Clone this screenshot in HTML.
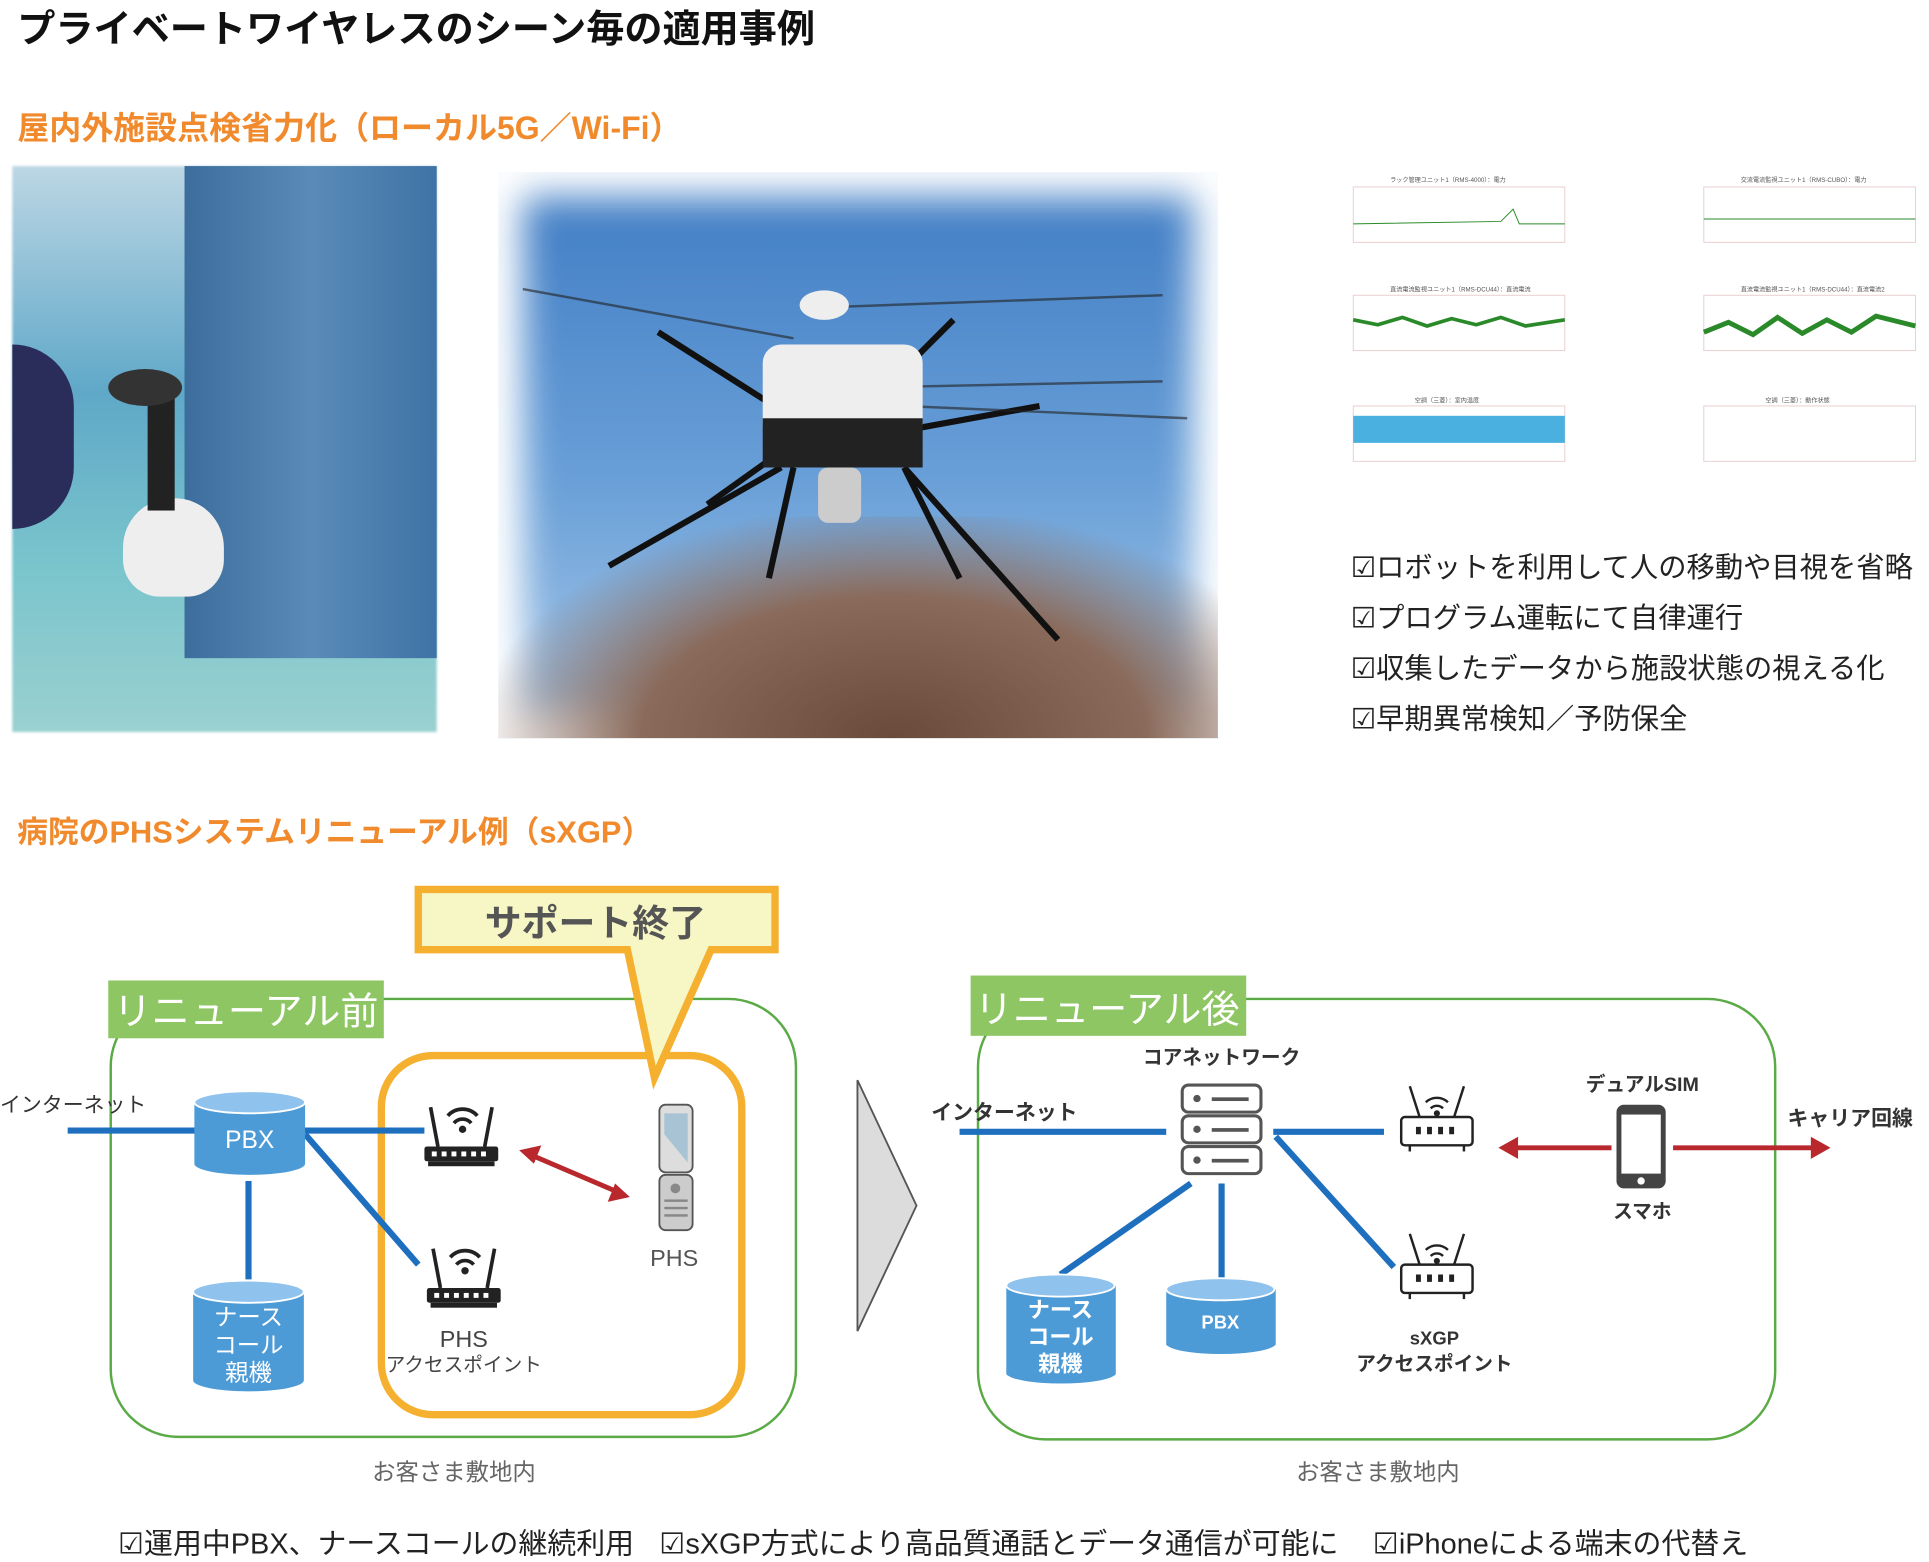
<!DOCTYPE html>
<html><head><meta charset="utf-8">
<style>
html,body{margin:0;padding:0;background:#fff;}
body{width:1929px;height:1557px;overflow:hidden;position:relative;}
#w{position:absolute;left:0;top:0;width:1568px;height:1266px;transform:scale(1.2302);transform-origin:0 0;font-family:"Liberation Sans","Noto Sans CJK JP",sans-serif;}
.t{position:absolute;white-space:nowrap;}
.or{color:#f08a2c;font-weight:bold;font-size:25px;}
.chk{font-size:23px;color:#222;}
.chk b{font-family:"DejaVu Sans",sans-serif;font-weight:normal;}
</style></head><body><div id="w">

<div class="t" style="left:14px;top:-2px;font-size:31px;font-weight:bold;color:#111;">プライベートワイヤレスのシーン毎の適用事例</div>
<div class="t or" style="left:14px;top:84px;font-size:26px;">屋内外施設点検省力化（ローカル5G／Wi-Fi）</div>

<!-- photo 1 -->
<div class="t" style="left:10px;top:135px;width:345px;height:460px;background:linear-gradient(180deg,#bcd6e4 0%,#5fa8c8 40%,#79c4cc 70%,#9ad0d0 100%);filter:blur(1px);"></div>
<div class="t" style="left:150px;top:135px;width:205px;height:400px;background:linear-gradient(90deg,#3c6d9c,#5a8bb8,#3f73a6);"></div>
<div class="t" style="left:10px;top:280px;width:50px;height:150px;background:#2a2d5a;border-radius:0 80px 80px 0;"></div>
<div class="t" style="left:100px;top:405px;width:82px;height:80px;background:#eee;border-radius:40px 40px 30px 30px;"></div>
<div class="t" style="left:120px;top:320px;width:22px;height:95px;background:#222;"></div>
<div class="t" style="left:88px;top:300px;width:60px;height:30px;background:#333;border-radius:50%;"></div>

<!-- photo 2 drone -->
<div class="t" style="left:405px;top:140px;width:585px;height:460px;background:linear-gradient(180deg,#3f7cc4 0%,#6aa0d8 55%,#a8c8e8 100%);box-shadow:inset 0 0 30px 20px #fff;"></div>
<div class="t" style="left:405px;top:420px;width:585px;height:180px;background:radial-gradient(ellipse at 55% 100%,#6a4a3a 0%,#8a6a5a 45%,rgba(160,140,130,0) 75%);"></div>
<svg class="t" style="left:405px;top:140px" width="585" height="460">
<g stroke="#111" stroke-width="5" fill="none">
<line x1="130" y1="130" x2="240" y2="200"/><line x1="370" y1="120" x2="300" y2="190"/>
<line x1="440" y1="190" x2="330" y2="210"/><line x1="170" y1="270" x2="240" y2="220"/>
<line x1="90" y1="320" x2="230" y2="240"/><line x1="220" y1="330" x2="240" y2="240"/>
<line x1="375" y1="330" x2="330" y2="240"/><line x1="455" y1="380" x2="330" y2="240"/>
</g>
<g stroke="#222" stroke-width="2" fill="none" opacity="0.6">
<line x1="20" y1="95" x2="240" y2="135"/><line x1="260" y1="110" x2="540" y2="100"/>
<line x1="300" y1="175" x2="540" y2="170"/><line x1="330" y1="190" x2="560" y2="200"/>
</g>
<rect x="215" y="140" width="130" height="80" rx="15" fill="#eee"/>
<rect x="215" y="200" width="130" height="40" fill="#222"/>
<ellipse cx="265" cy="108" rx="20" ry="12" fill="#eee"/>
<rect x="260" y="240" width="35" height="45" rx="8" fill="#ccc"/>
</svg>

<!-- charts -->
<svg class="t" style="left:1070px;top:140px" width="495" height="270" font-family="Liberation Sans" font-size="5" fill="#555">
<g fill="none" stroke="#e6c8c8" stroke-width="0.7">
<rect x="30" y="12" width="172" height="45"/><rect x="30" y="100" width="172" height="45"/><rect x="30" y="190" width="172" height="45"/>
<rect x="315" y="12" width="172" height="45"/><rect x="315" y="100" width="172" height="45"/><rect x="315" y="190" width="172" height="45"/>
</g>
<text x="60" y="8">ラック管理ユニット1（RMS-4000）：電力</text><text x="345" y="8">交流電流監視ユニット1（RMS-CUBO）：電力</text>
<text x="60" y="97">直流電流監視ユニット1（RMS-DCU44）：直流電流</text><text x="345" y="97">直流電流監視ユニット1（RMS-DCU44）：直流電流2</text>
<text x="80" y="187">空調（三菱）：室内温度</text><text x="365" y="187">空調（三菱）：動作状態</text>
<polyline points="30,42 150,40 160,30 165,42 202,42" stroke="#2a8a2a" fill="none" stroke-width="0.8"/>
<line x1="315" y1="38" x2="487" y2="38" stroke="#2a8a2a" stroke-width="0.8"/>
<polyline points="30,120 50,124 70,118 90,125 110,119 130,124 150,118 170,125 202,120" stroke="#2a8a2a" fill="none" stroke-width="3"/>
<polyline points="315,130 335,122 355,132 375,118 395,131 415,120 435,130 455,117 487,125" stroke="#2a8a2a" fill="none" stroke-width="4"/>
<rect x="30" y="198" width="172" height="22" fill="#4ab0e0"/>
</svg>

<div class="t chk" style="left:1098px;top:441px;line-height:40px;"><b>☑</b>ロボットを利用して人の移動や目視を省略<br><b>☑</b>プログラム運転にて自律運行<br><b>☑</b>収集したデータから施設状態の視える化<br><b>☑</b>早期異常検知／予防保全</div>

<div class="t or" style="left:14px;top:657px;">病院のPHSシステムリニューアル例（sXGP）</div>

<svg class="t" style="left:0;top:700px" width="1568" height="530" font-family="Liberation Sans,Noto Sans CJK JP,sans-serif">
<rect x="90" y="112" width="557" height="356" rx="55" fill="none" stroke="#5aaa46" stroke-width="2"/>
<rect x="310" y="158" width="293" height="292" rx="42" fill="none" stroke="#f5b030" stroke-width="6"/>
<polygon points="340,23 630,23 630,72 578,72 532,176 510,72 340,72" fill="#f7f6c5" stroke="#f5b030" stroke-width="6" stroke-linejoin="miter"/>
<text x="484" y="61" font-size="30" font-weight="bold" fill="#555" text-anchor="middle">サポート終了</text>
<rect x="88" y="97" width="224" height="47" fill="#8dc663"/>
<text x="200" y="133" font-size="31" fill="#fff" text-anchor="middle">リニューアル前</text>
<g stroke="#1f6fbf" stroke-width="5">
<line x1="55" y1="219" x2="160" y2="219"/><line x1="246" y1="219" x2="345" y2="219"/>
<line x1="248" y1="222" x2="340" y2="328"/><line x1="202" y1="260" x2="202" y2="340"/>
</g>
<text x="0" y="204" font-size="17" fill="#333">インターネット</text>
<g>
<path d="M158,196 v50 a45,9 0 0 0 90,0 v-50" fill="#4d9bd6"/><ellipse cx="203" cy="196" rx="45" ry="9" fill="#8fc2ec" stroke="#fff" stroke-width="1.5"/>
<text x="203" y="233" font-size="20" fill="#fff" text-anchor="middle">PBX</text>
<path d="M157,350 v72 a45,9 0 0 0 90,0 v-72" fill="#4d9bd6"/><ellipse cx="202" cy="350" rx="45" ry="9" fill="#8fc2ec" stroke="#fff" stroke-width="1.5"/>
<text x="202" y="377" font-size="19" fill="#fff" text-anchor="middle">ナース</text>
<text x="202" y="400" font-size="19" fill="#fff" text-anchor="middle">コール</text>
<text x="202" y="422" font-size="19" fill="#fff" text-anchor="middle">親機</text>
</g>
<g id="r1" fill="#222">
<line x1="350" y1="200" x2="356" y2="232" stroke="#222" stroke-width="3"/><line x1="400" y1="200" x2="394" y2="232" stroke="#222" stroke-width="3"/>
<path d="M364,207 a16,16 0 0 1 24,0" stroke="#222" stroke-width="3" fill="none"/><path d="M369,213 a9,9 0 0 1 14,0" stroke="#222" stroke-width="3" fill="none"/><circle cx="376" cy="218" r="3"/>
<rect x="345" y="232" width="60" height="12" rx="2"/><rect x="348" y="244" width="54" height="4"/>
<g fill="#fff"><rect x="351" y="236" width="4" height="4"/><rect x="359" y="236" width="4" height="4"/><rect x="367" y="236" width="4" height="4"/><rect x="375" y="236" width="4" height="4"/><rect x="383" y="236" width="4" height="4"/><rect x="391" y="236" width="4" height="4"/></g>
</g>
<use href="#r1" transform="translate(2,115)"/>
<text x="377" y="395" font-size="19" fill="#444" text-anchor="middle">PHS</text>
<text x="377" y="415" font-size="16" fill="#444" text-anchor="middle">アクセスポイント</text>
<line x1="432" y1="239" x2="500" y2="268" stroke="#b8282d" stroke-width="4"/>
<polygon points="422,235 440,231 434,246" fill="#b8282d"/><polygon points="512,273 494,277 500,262" fill="#b8282d"/>
<rect x="536" y="198" width="27" height="55" rx="5" fill="#ddd" stroke="#555" stroke-width="1.5"/>
<polygon points="540,205 559,205 559,245 540,222" fill="#a8c4d4"/>
<rect x="536" y="255" width="27" height="45" rx="5" fill="#ccc" stroke="#555" stroke-width="1.5"/>
<g fill="#888"><circle cx="549" cy="266" r="4"/><rect x="540" y="275" width="19" height="2"/><rect x="540" y="281" width="19" height="2"/><rect x="540" y="287" width="19" height="2"/></g>
<text x="548" y="329" font-size="19" fill="#555" text-anchor="middle">PHS</text>
<text x="369" y="503" font-size="19" fill="#666" text-anchor="middle">お客さま敷地内</text>
<polygon points="697,178 745,280 697,382" fill="#dcdcdc" stroke="#555" stroke-width="1.5"/>
<rect x="795" y="112" width="648" height="358" rx="55" fill="none" stroke="#5aaa46" stroke-width="2"/>
<rect x="789" y="93" width="224" height="49" fill="#8dc663"/>
<text x="900" y="131" font-size="31" fill="#fff" text-anchor="middle">リニューアル後</text>
<text x="993" y="165" font-size="16" font-weight="bold" fill="#333" text-anchor="middle">コアネットワーク</text>
<text x="757" y="210" font-size="17" font-weight="bold" fill="#333">インターネット</text>
<g stroke="#1f6fbf" stroke-width="5">
<line x1="780" y1="220" x2="948" y2="220"/><line x1="1035" y1="220" x2="1125" y2="220"/>
<line x1="1037" y1="224" x2="1133" y2="330"/><line x1="993" y1="262" x2="993" y2="340"/>
<line x1="968" y1="262" x2="862" y2="336"/>
</g>
<g fill="#fff" stroke="#555" stroke-width="2.5">
<rect x="961" y="182" width="64" height="22" rx="5"/><rect x="961" y="207" width="64" height="22" rx="5"/><rect x="961" y="232" width="64" height="22" rx="5"/>
</g>
<g fill="#555"><circle cx="973" cy="193" r="3"/><circle cx="973" cy="218" r="3"/><circle cx="973" cy="243" r="3"/>
<rect x="985" y="192" width="30" height="3"/><rect x="985" y="217" width="30" height="3"/><rect x="985" y="242" width="30" height="3"/></g>
<path d="M818,345 v72 a45,9 0 0 0 89,0 v-72" fill="#4d9bd6"/><ellipse cx="862" cy="345" rx="44" ry="9" fill="#8fc2ec" stroke="#fff" stroke-width="1.5"/>
<text x="862" y="371" font-size="18" font-weight="bold" fill="#fff" text-anchor="middle">ナース</text>
<text x="862" y="393" font-size="18" font-weight="bold" fill="#fff" text-anchor="middle">コール</text>
<text x="862" y="415" font-size="18" font-weight="bold" fill="#fff" text-anchor="middle">親機</text>
<path d="M948,348 v45 a45,9 0 0 0 89,0 v-45" fill="#4d9bd6"/><ellipse cx="992" cy="348" rx="44" ry="9" fill="#8fc2ec" stroke="#fff" stroke-width="1.5"/>
<text x="992" y="380" font-size="15" font-weight="bold" fill="#fff" text-anchor="middle">PBX</text>
<g id="r3" fill="none" stroke="#222" stroke-width="2">
<line x1="1146" y1="183" x2="1154" y2="208"/><line x1="1190" y1="183" x2="1182" y2="208"/>
<path d="M1159,196 a13,13 0 0 1 18,0"/><path d="M1163,201 a7,7 0 0 1 10,0"/><circle cx="1168" cy="205" r="1.5" fill="#222"/>
<rect x="1139" y="208" width="58" height="23" rx="3" fill="#fff"/>
<line x1="1146" y1="231" x2="1146" y2="236"/><line x1="1190" y1="231" x2="1190" y2="236"/>
<g fill="#222" stroke="none"><rect x="1151" y="216" width="4" height="6"/><rect x="1160" y="216" width="4" height="6"/><rect x="1169" y="216" width="4" height="6"/><rect x="1178" y="216" width="4" height="6"/></g>
</g>
<use href="#r3" transform="translate(0,120)"/>
<text x="1166" y="393" font-size="15" font-weight="bold" fill="#333" text-anchor="middle">sXGP</text>
<text x="1166" y="414" font-size="16" font-weight="bold" fill="#333" text-anchor="middle">アクセスポイント</text>
<rect x="1314" y="198" width="40" height="68" rx="6" fill="#444"/><rect x="1318" y="206" width="32" height="48" fill="#fff"/><circle cx="1334" cy="260" r="3" fill="#fff"/>
<text x="1335" y="187" font-size="16" font-weight="bold" fill="#333" text-anchor="middle">デュアルSIM</text>
<text x="1335" y="290" font-size="16" font-weight="bold" fill="#333" text-anchor="middle">スマホ</text>
<line x1="1232" y1="233" x2="1310" y2="233" stroke="#b8282d" stroke-width="4"/><polygon points="1218,233 1234,224 1234,242" fill="#b8282d"/>
<line x1="1360" y1="233" x2="1474" y2="233" stroke="#b8282d" stroke-width="4"/><polygon points="1488,233 1472,224 1472,242" fill="#b8282d"/>
<text x="1453" y="215" font-size="17" font-weight="bold" fill="#333">キャリア回線</text>
<text x="1120" y="503" font-size="19" fill="#666" text-anchor="middle">お客さま敷地内</text>
</svg>

<div class="t chk" style="left:96px;top:1236px;font-size:23.5px;"><b>☑</b>運用中PBX、ナースコールの継続利用</div>
<div class="t chk" style="left:536px;top:1236px;font-size:23.5px;"><b>☑</b>sXGP方式により高品質通話とデータ通信が可能に</div>
<div class="t chk" style="left:1116px;top:1236px;font-size:23.5px;"><b>☑</b>iPhoneによる端末の代替え</div>
</div></body></html>
